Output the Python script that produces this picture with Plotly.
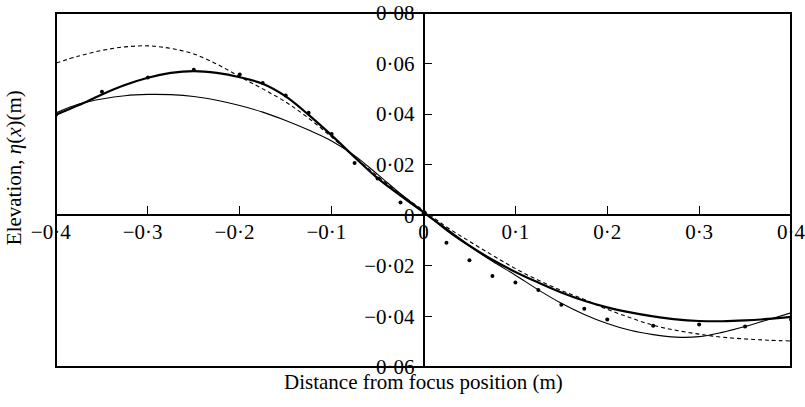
import plotly.graph_objects as go

# ---- data -------------------------------------------------------------
x_curve = [-0.400, -0.375, -0.350, -0.325, -0.300, -0.275, -0.250, -0.225,
           -0.200, -0.175, -0.150, -0.125, -0.100, -0.075, -0.050, -0.025,
           0.000, 0.025, 0.050, 0.075, 0.100, 0.125, 0.150, 0.175,
           0.200, 0.225, 0.250, 0.275, 0.300, 0.325, 0.350, 0.375, 0.400]

thick_solid = [0.0398, 0.0436, 0.0478, 0.0515, 0.0544, 0.0563, 0.0570, 0.0563,
               0.0546, 0.0520, 0.0470, 0.0397, 0.0316, 0.0230, 0.0147, 0.0078,
               0.0012, -0.0055, -0.0120, -0.0176, -0.0224, -0.0266, -0.0305, -0.0338,
               -0.0364, -0.0384, -0.0400, -0.0412, -0.0418, -0.0419, -0.0416, -0.0410, -0.0402]

thin_solid = [0.0405, 0.0440, 0.0460, 0.0473, 0.0478, 0.0477, 0.0470, 0.0455,
              0.0434, 0.0408, 0.0375, 0.0337, 0.0294, 0.0236, 0.0162, 0.0085,
              0.0015, -0.0060, -0.0123, -0.0182, -0.0237, -0.0295, -0.0348, -0.0392,
              -0.0428, -0.0455, -0.0472, -0.0482, -0.0480, -0.0463, -0.0440, -0.0413, -0.0386]

dashed = [0.0602, 0.0630, 0.0652, 0.0666, 0.0670, 0.0660, 0.0638, 0.0598,
          0.0548, 0.0500, 0.0448, 0.0384, 0.0309, 0.0230, 0.0155, 0.0082,
          0.0020, -0.0046, -0.0103, -0.0158, -0.0211, -0.0257, -0.0297, -0.0333,
          -0.0372, -0.0405, -0.0435, -0.0455, -0.0470, -0.0482, -0.0489, -0.0494, -0.0497]

x_meas = [-0.400, -0.350, -0.300, -0.250, -0.200, -0.175, -0.150, -0.125, -0.100,
          -0.075, -0.050, -0.025, 0.000, 0.025, 0.050, 0.075, 0.100, 0.125,
          0.150, 0.175, 0.200, 0.250, 0.300, 0.350, 0.400]
y_meas = [0.0398, 0.0489, 0.0545, 0.0576, 0.0557, 0.0523, 0.0474, 0.0406, 0.0321,
          0.0207, 0.0145, 0.0051, 0.0005, -0.0109, -0.0178, -0.0240, -0.0266, -0.0295,
          -0.0354, -0.0370, -0.0412, -0.0437, -0.0432, -0.0440, -0.0412]

x_tickvals = [-0.4, -0.3, -0.2, -0.1, 0.0, 0.1, 0.2, 0.3, 0.4]
x_ticktext = ["\u22120\u00b74\u2002", "\u22120\u00b73\u2002", "\u22120\u00b72\u2002",
              "\u22120\u00b71\u2002", "0", "0\u00b71", "0\u00b72", "0\u00b73", "0\u00b74"]
y_tickvals = [-0.06, -0.04, -0.02, 0.0, 0.02, 0.04, 0.06, 0.08]
y_ticktext = ["\u22120\u00b706", "\u22120\u00b704", "\u22120\u00b702", "0",
              "0\u00b702", "0\u00b704", "0\u00b706", "0\u00b708"]

x_title = "Distance from focus position (m)"
y_title = "Elevation, <i>\u03b7</i>(<i>x</i>)(m)"

FONT = "Liberation Serif, Times New Roman, serif"

# ---- figure -----------------------------------------------------------
fig = go.Figure()
fig.add_trace(go.Scatter(x=x_curve, y=dashed, mode="lines",
                         line=dict(color="black", width=1.1, dash="4px,3px", shape="spline"),
                         showlegend=False))
fig.add_trace(go.Scatter(x=x_curve, y=thin_solid, mode="lines",
                         line=dict(color="black", width=1.1, shape="spline"),
                         showlegend=False))
fig.add_trace(go.Scatter(x=x_curve, y=thick_solid, mode="lines",
                         line=dict(color="black", width=2.2, shape="spline"),
                         showlegend=False))
fig.add_trace(go.Scatter(x=x_meas, y=y_meas, mode="markers",
                         marker=dict(color="black", size=4),
                         showlegend=False))

ymin, ymax = -0.06, 0.08
xmin, xmax = -0.4, 0.4

axis_common = dict(showline=True, linecolor="black", linewidth=1.6,
                   ticks="inside", ticklen=8, tickwidth=1.3, tickcolor="black",
                   tickfont=dict(family=FONT, size=21, color="black"),
                   showgrid=False, zeroline=False, automargin=False,
                   ticklabeloverflow="allow")

fig.update_layout(
    width=805, height=407,
    margin=dict(l=56, r=14, t=13, b=40, autoexpand=False),
    paper_bgcolor="white", plot_bgcolor="white",
    font=dict(family=FONT, size=21, color="black"),
    xaxis=dict(range=[xmin, xmax], anchor="free",
               position=(0 - ymin) / (ymax - ymin),
               tickvals=x_tickvals, ticktext=x_ticktext,
               ticklabelstandoff=-2, **axis_common),
    yaxis=dict(range=[ymin, ymax], anchor="free",
               position=(0 - xmin) / (xmax - xmin),
               tickvals=y_tickvals, ticktext=y_ticktext,
               ticklabelstandoff=4, **axis_common),
    shapes=[dict(type="rect", xref="paper", yref="paper", x0=0, x1=1, y0=0, y1=1,
                 line=dict(color="black", width=2), layer="above")],
    annotations=[
        dict(text=x_title, xref="paper", yref="paper", x=0.5, y=-0.042,
             xanchor="center", yanchor="middle", showarrow=False,
             font=dict(family=FONT, size=21, color="black")),
        dict(text=y_title, xref="paper", yref="paper", x=-0.056, y=0.564,
             xanchor="center", yanchor="middle", textangle=-90, showarrow=False,
             font=dict(family=FONT, size=21, color="black")),
    ],
)

fig.write_html("out.html",
               config={"displayModeBar": False},
               post_script="document.body.style.margin='0';"
                           "document.body.style.overflow='hidden';")
